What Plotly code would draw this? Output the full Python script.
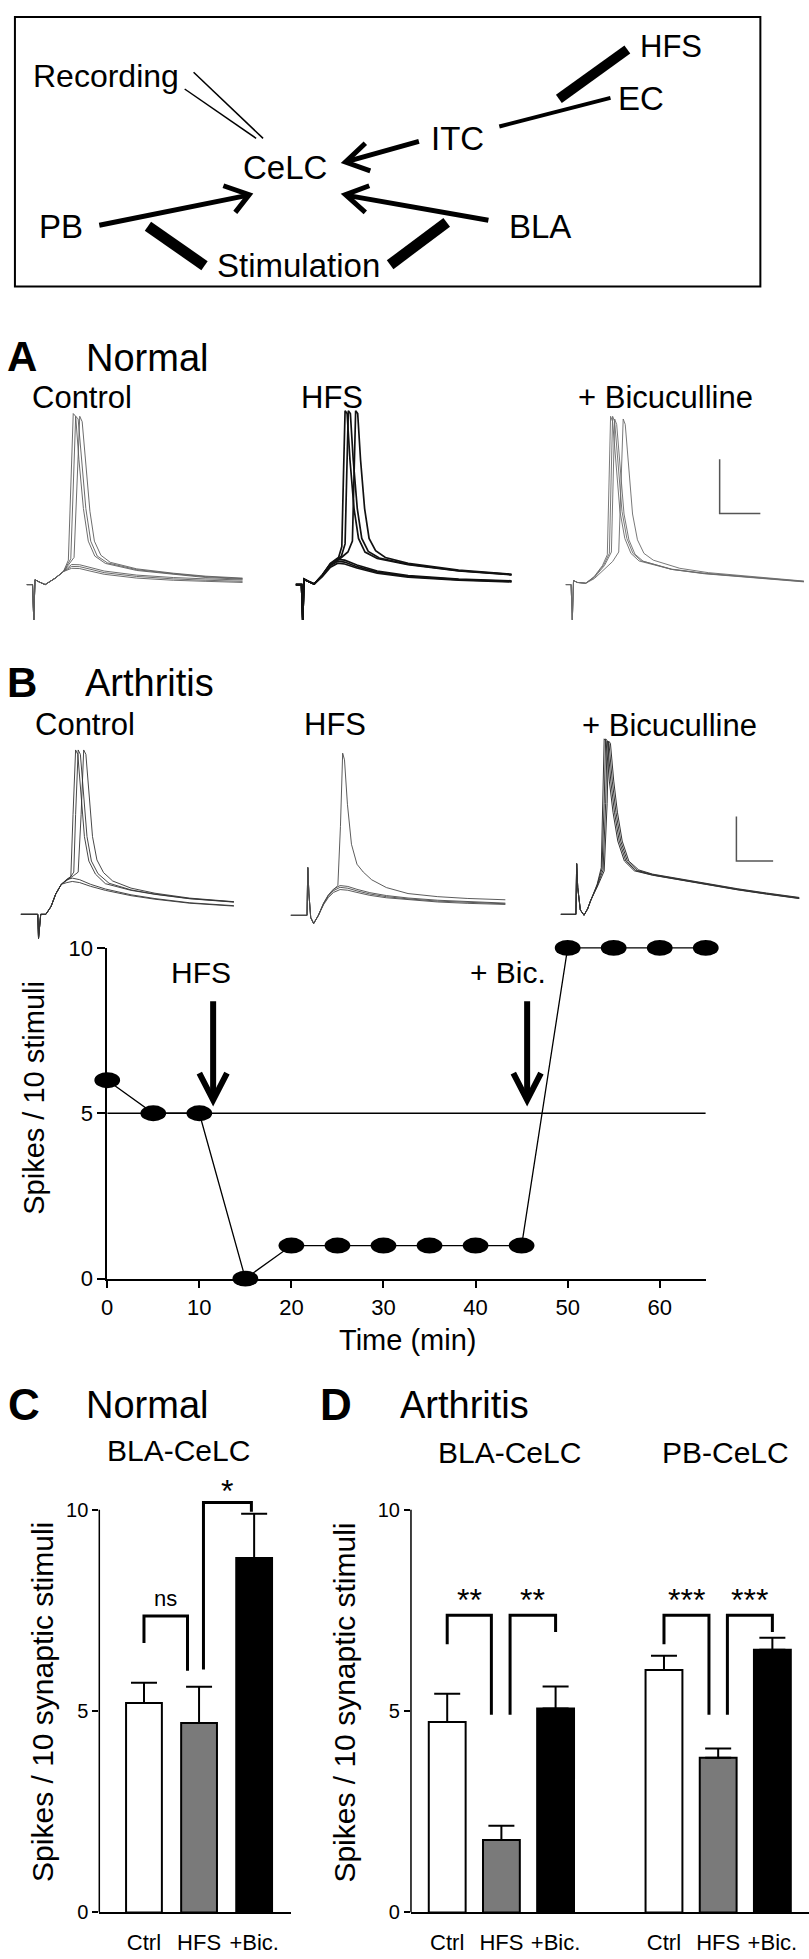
import plotly.graph_objects as go

W, H = 809, 1959
FONT = "Liberation Sans, Arial, Helvetica, sans-serif"

# ---------------------------------------------------------------
# data
# ---------------------------------------------------------------
# time course, arthritis neuron (spikes per 10 stimuli)
time_min = [0, 5, 10, 15, 20, 25, 30, 35, 40, 45, 50, 55, 60, 65]
spikes_per10 = [6, 5, 5, 0, 1, 1, 1, 1, 1, 1, 10, 10, 10, 10]
time_ticks = [0, 10, 20, 30, 40, 50, 60]
spike_ticks = [0, 5, 10]
control_level = 5
hfs_at = 11.5
bic_at = 45.6

# bar graphs (mean, sem)
bar_labels = ["Ctrl", "HFS", "+Bic."]
bar_colors = ["white", "#7a7a7a", "black"]
normal_bla = [5.2, 4.7, 8.8]
normal_bla_sem = [0.5, 0.9, 1.1]
arth_bla = [4.73, 1.8, 5.06]
arth_bla_sem = [0.7, 0.35, 0.55]
arth_pb = [6.02, 3.84, 6.52]
arth_pb_sem = [0.35, 0.23, 0.3]
pos_c = [0, 1, 2]
pos_bla = [0, 1, 2]
pos_pb = [4, 5, 6]

# significance brackets: label, x left, x right, left foot, right foot, top
sig_c = [("ns", 0, 0.79, 6.69, 6.0, 7.36), ("*", 1.08, 1.95, 6.03, 9.95, 10.18)]
sig_d = [("**", 0, 0.815, 6.66, 4.91, 7.38), ("**", 1.16, 2.0, 4.91, 6.96, 7.38),
         ("***", 4, 4.83, 6.66, 4.91, 7.38), ("***", 5.17, 6.0, 4.91, 6.96, 7.38)]

# example recordings: (ms, mV above rest)
a_onset = [(0, 0), (1.4, 0), (1.7, -13), (2.0, 1.8), (3.0, 1.0), (4.5, 0), (7, 2.4), (9, 4.8)]
a_ctrl_traces = [
    a_onset + [(11, 7.4), (13, 7.3), (15.5, 6.3), (19, 5.0), (27, 3.5), (36, 2.6), (44, 2.1), (53, 1.7)],
    a_onset + [(11, 6.7), (13, 6.6), (15.5, 5.7), (19, 4.4), (27, 3.0), (36, 2.1), (44, 1.6), (53, 1.2)],
    a_onset + [(11, 6.0), (13, 5.9), (15.5, 5.0), (19, 3.8), (27, 2.4), (36, 1.6), (44, 1.2), (53, 0.8)],
    a_onset + [(10.2, 9.0), (10.8, 38), (11.4, 63), (12.0, 62), (12.8, 46), (13.9, 28), (15.1, 16),
               (16.7, 10.5), (19.3, 7.8), (27, 5.2), (36, 3.7), (44, 2.6), (53, 2.0)],
    a_onset + [(10.8, 9.5), (11.4, 38), (12.0, 62), (12.6, 61), (13.4, 46), (14.5, 28), (15.7, 16),
               (17.3, 10.5), (19.8, 8.0), (27, 5.5), (36, 4.0), (44, 2.9), (53, 2.2)],
    a_onset + [(11.6, 10), (12.3, 38), (13.0, 62), (13.6, 60), (14.4, 45), (15.5, 27), (16.6, 16),
               (18.2, 10.8), (20.5, 8.2), (27, 5.8), (36, 4.2), (44, 3.1), (53, 2.4)],
]

h_onset = [(0, 0), (1.4, 0), (1.7, -13), (2.0, 2.0), (3.0, 1.2), (4.5, 0.2)]
a_hfs_traces = [
    h_onset + [(6.5, 3.5), (8.5, 7.5), (10.3, 9.3), (12, 9.0), (15, 7.2), (20, 5.0), (27.6, 3.3), (40, 2.0), (53, 1.4)],
    h_onset + [(6.5, 3.2), (8.5, 7.0), (10.3, 8.6), (12, 8.3), (15, 6.6), (20, 4.6), (27.6, 3.0), (40, 1.8), (53, 1.2)],
    h_onset + [(6.5, 2.9), (8.5, 6.4), (10.3, 7.9), (12, 7.6), (15, 6.1), (20, 4.2), (27.6, 2.7), (40, 1.6), (53, 1.0)],
    h_onset + [(6.5, 3.5), (8.5, 7.8), (10.5, 10), (11.3, 14), (11.7, 40), (12.1, 64), (12.6, 63), (13.3, 46),
               (14.3, 28), (15.4, 17), (17, 12), (20, 9.6), (27.6, 7.3), (40, 5.0), (53, 3.6)],
    h_onset + [(6.5, 3.4), (8.5, 7.6), (11.2, 10.5), (12.1, 15), (12.5, 40), (12.9, 64), (13.4, 63), (14.1, 46),
               (15.1, 28), (16.2, 17), (17.8, 12.2), (20.5, 9.8), (27.6, 7.5), (40, 5.1), (53, 3.7)],
    h_onset + [(6.5, 3.3), (8.5, 7.3), (11.2, 10), (12.8, 12), (13.9, 16), (14.3, 40), (14.7, 64), (15.2, 63),
               (15.9, 46), (16.9, 28), (18, 17), (19.6, 12.5), (22, 10), (27.6, 7.8), (40, 5.3), (53, 3.8)],
]

b_onset = [(0, 0), (1.3, 0), (1.6, -13), (1.9, 1.5), (2.8, 0.8), (4.9, 0.5)]
a_bic_traces = [
    b_onset + [(7, 3.0), (9, 7.0), (10.2, 11), (10.6, 35), (11.0, 62), (11.5, 60), (12.3, 44), (13.3, 27),
               (14.5, 17), (16, 11.5), (18, 8.7), (26, 5.6), (34, 4.1), (42, 3.1), (50, 2.0), (58.5, 1.1)],
    b_onset + [(7, 2.8), (9.3, 7.2), (10.7, 11.5), (11.1, 35), (11.5, 62), (12.0, 60), (12.8, 44), (13.8, 27),
               (15, 17), (16.5, 11.5), (18.5, 8.8), (26, 5.7), (34, 4.2), (42, 3.2), (50, 2.1), (58.5, 1.2)],
    b_onset + [(7, 2.6), (9.5, 7.0), (11.2, 12), (11.6, 35), (12.0, 61), (12.5, 59), (13.3, 43), (14.3, 26),
               (15.5, 16.5), (17, 11.2), (19, 8.6), (26, 5.6), (34, 4.0), (42, 3.1), (50, 2.0), (58.5, 1.0)],
    b_onset + [(7, 2.2), (9.5, 5.5), (11.5, 8.5), (13.0, 12), (13.6, 35), (14.1, 61), (14.6, 59), (15.4, 43),
               (16.4, 26), (17.6, 16.5), (19.2, 11.5), (21.5, 9.0), (28, 6.0), (35, 4.4), (42, 3.4), (50, 2.3), (58.5, 1.3)],
]

c_onset = [(0, 0), (4.6, 0), (4.8, -10.8), (5.1, -4), (5.4, 0), (6.8, 0), (8.2, 3.5), (9.5, 9.2), (11, 13.5)]
b_ctrl_traces = [
    c_onset + [(12.5, 15.6), (14, 16.3), (16, 15.6), (19, 13.5), (23, 11.4), (30, 8.8), (36.5, 7.1), (46, 5.2), (58, 3.9)],
    c_onset + [(12.5, 14.3), (14, 14.8), (16, 14.3), (19, 12.6), (23, 10.8), (30, 8.4), (36.5, 6.8), (46, 5.0), (58, 3.7)],
    c_onset + [(12.5, 15.8), (13.6, 17), (14.2, 45), (14.9, 74), (15.5, 72), (16.3, 55), (17.3, 35), (18.5, 24),
               (20.3, 18.1), (23, 13.8), (30, 10.8), (36.5, 9.0), (46, 7.0), (58, 5.5)],
    c_onset + [(13.6, 17), (14.4, 19), (14.9, 45), (15.6, 74), (16.2, 72), (17, 55), (18, 35), (19.2, 24),
               (21, 18.3), (24, 14), (30, 11), (36.5, 9.1), (46, 7.1), (58, 5.6)],
    c_onset + [(14.4, 17.5), (15.6, 19), (16.4, 45), (17.1, 74), (17.7, 72), (18.5, 55), (19.5, 35), (20.7, 24.5),
               (22.5, 18.8), (25, 15), (30, 11.8), (36.5, 9.5), (46, 7.3), (58, 5.7)],
]

d_onset = [(0, 0), (4.4, 0), (4.6, 21.5), (4.9, 10), (5.4, -1), (6.2, -3.7), (7.5, 0)]
b_hfs_traces = [
    d_onset + [(8.9, 5.2), (10.2, 8.6), (11.6, 11.1), (13.4, 12.6), (15.5, 12.2), (18, 11), (21.5, 9.6), (26, 8.4),
               (31.9, 7.4), (40, 6.4), (48, 5.8), (58.4, 5.2)],
    d_onset + [(8.9, 4.8), (10.2, 8.0), (11.6, 10.3), (13.4, 11.6), (15.5, 11.3), (18, 10.3), (21.5, 9.0), (26, 7.9),
               (31.9, 7.0), (40, 6.0), (48, 5.4), (58.4, 4.9)],
    d_onset + [(8.9, 5.5), (10.2, 9.2), (11.6, 11.8), (13.4, 13.4), (15.5, 13.0), (18, 11.7), (21.5, 10.2), (26, 8.9),
               (31.9, 7.8), (40, 6.8), (48, 6.1), (58.4, 5.5)],
    d_onset + [(8.9, 5.3), (10.2, 9.0), (11.6, 11.5), (12.8, 13.5), (13.5, 40), (14.1, 73), (14.6, 70), (15.4, 50),
               (16.5, 32), (18, 23), (19.7, 19.5), (22, 16), (26, 12.5), (31.9, 9.8), (40, 8.4), (48, 7.6), (58.4, 7.0)],
]

e_onset = [(0, 0), (4.1, 0), (4.3, 22.8), (4.6, 12), (5.3, 2), (6.3, -0.4), (7.3, 2.5), (8.1, 6.2)]
b_bic_traces = [
    e_onset + [(9.9, 13.6), (11.0, 21), (11.4, 50), (11.8, 79), (12.3, 78), (13.2, 60), (14.2, 46), (15.5, 33),
               (17.3, 24), (20, 19.6), (25, 17.6), (30.2, 16.1), (40, 13.3), (48.2, 11.0), (56, 9.1), (64.9, 7.1)],
    e_onset + [(9.9, 13.2), (11.2, 20.5), (11.8, 50), (12.2, 79), (12.7, 78), (13.6, 60), (14.6, 46), (15.9, 33),
               (17.7, 24), (20.4, 19.7), (25, 17.7), (30.2, 16.2), (40, 13.4), (48.2, 11.1), (56, 9.2), (64.9, 7.2)],
    e_onset + [(9.9, 12.8), (11.5, 20), (12.2, 50), (12.6, 78), (13.1, 77), (14.0, 60), (15.0, 46), (16.3, 33),
               (18.1, 24), (20.8, 19.8), (25, 17.9), (30.2, 16.4), (40, 13.6), (48.2, 11.3), (56, 9.4), (64.9, 7.4)],
    e_onset + [(9.9, 12.3), (11.8, 19.5), (12.6, 50), (13.0, 78), (13.5, 77), (14.4, 60), (15.4, 46), (16.7, 33),
               (18.5, 24), (21.2, 20), (25, 18.1), (30.2, 16.6), (40, 13.8), (48.2, 11.5), (56, 9.6), (64.9, 7.6)],
]

# scale bars: 10 ms / 20 mV
scale_ms, scale_mv = 10, 20


# ---------------------------------------------------------------
# helpers (pixel layout -> paper)
# ---------------------------------------------------------------
def P(x, y):
    return x / W, 1 - y / H


def dom_x(x0, x1):
    return [x0 / W, x1 / W]


def dom_y(top, bot):
    return [1 - bot / H, 1 - top / H]


def seg(x0, y0, x1, y1, w, color="black"):
    a, b = P(x0, y0)
    c, d = P(x1, y1)
    return dict(type="line", xref="paper", yref="paper", x0=a, y0=b, x1=c, y1=d,
                line=dict(color=color, width=w), layer="above")


def poly(pts, w):
    path = "M " + " L ".join("%.5f,%.5f" % P(x, y) for x, y in pts)
    return dict(type="path", path=path, xref="paper", yref="paper",
                line=dict(color="black", width=w), layer="above")


def label(text, x, y, size, angle=0):
    a, b = P(x, y)
    return dict(text=text, x=a, y=b, xref="paper", yref="paper", showarrow=False,
                xanchor="center", yanchor="middle", textangle=angle,
                font=dict(family=FONT, size=size, color="black"))


fig = go.Figure()
shapes = []
annotations = []
axes = {}

# ---------------------------------------------------------------
# diagram
# ---------------------------------------------------------------
a, b = P(9, 5)
c, d = P(760, 278)
shapes.append(dict(type="rect", xref="paper", yref="paper", x0=a, y0=d, x1=c, y1=b,
                   line=dict(color="black", width=2)))
shapes += [
    seg(189, 61, 259, 128, 1.5), seg(180, 78, 252, 128, 1.5),          # recording pipette
    seg(94, 216, 242, 186, 5), poly([(219, 176), (245, 185), (231, 203)], 5),   # PB -> CeLC
    seg(486, 211, 345, 186, 5), poly([(366, 176), (342, 185), (362, 203)], 5),  # BLA -> CeLC
    seg(416, 131, 345, 151, 5), poly([(362, 133), (342, 152), (367, 161)], 5),  # ITC -> CeLC
    seg(497, 116, 609, 87, 4),                                          # EC - ITC
    seg(557, 88, 626, 38, 10),                                          # HFS electrode
    seg(143, 217, 200, 257, 11), seg(444, 213, 387, 256, 11),           # stimulation electrodes
]
for t, x, y, s in [("Recording", 101, 65, 32), ("CeLC", 281, 158, 33), ("PB", 55, 217, 33),
                   ("Stimulation", 295, 257, 33), ("ITC", 455, 128, 33), ("HFS", 670, 35, 31),
                   ("EC", 640, 88, 33), ("BLA", 538, 217, 33)]:
    annotations.append(label(t, x, y, s))

# ---------------------------------------------------------------
# example traces A / B
# ---------------------------------------------------------------
panels = [
    # traces, axis no, box (x0, x1, top, bottom), origin px, px/ms, px/mV, colour, width
    (a_ctrl_traces, 3, (10, 250, 395, 625), (21, 580), 4.1, 2.75, "#5c5c5c", 0.9),
    (a_hfs_traces, 4, (280, 520, 395, 625), (292, 580), 4.1, 2.75, "#111111", 1.7),
    (a_bic_traces, 5, (552, 809, 395, 625), (564, 580), 4.1, 2.75, "#6a6a6a", 0.9),
    (b_ctrl_traces, 6, (8, 245, 728, 945), (15, 914), 3.7, 2.25, "#333333", 0.9),
    (b_hfs_traces, 7, (278, 520, 728, 945), (287, 915), 3.7, 2.25, "#4a4a4a", 0.9),
    (b_bic_traces, 8, (548, 809, 728, 945), (559, 914), 3.7, 2.25, "#333333", 1.0),
]
for traces, n, (x0, x1, top, bot), (ox, oy), sx, sy, col, lw in panels:
    axes["xaxis%d" % n] = dict(domain=dom_x(x0, x1), range=[(x0 - ox) / sx, (x1 - ox) / sx],
                               visible=False, anchor="y%d" % n)
    axes["yaxis%d" % n] = dict(domain=dom_y(top, bot), range=[(oy - bot) / sy, (oy - top) / sy],
                               visible=False, anchor="x%d" % n)
    for tr in traces:
        fig.add_trace(go.Scatter(x=[p[0] for p in tr], y=[p[1] for p in tr], mode="lines",
                                 line=dict(color=col, width=lw), xaxis="x%d" % n, yaxis="y%d" % n,
                                 hoverinfo="skip"))

# scale bars (A: right panel axes 5, B: axes 8)
for n, t0, v0 in [(5, 37.8, 26.2), (8, 47.8, 24.0)]:
    shapes.append(dict(type="path", xref="x%d" % n, yref="y%d" % n,
                       path="M %g,%g L %g,%g L %g,%g" % (t0, v0 + scale_mv, t0, v0, t0 + scale_ms, v0),
                       line=dict(color="#555555", width=1.5)))

for t, x, y, s in [("<b>A</b>", 16, 349, 42), ("Normal", 142, 350, 38), ("Control", 77, 390, 31),
                   ("HFS", 328, 390, 31), ("+ Bicuculline", 664, 390, 31),
                   ("<b>B</b>", 16, 679, 42), ("Arthritis", 145, 680, 38), ("Control", 80, 722, 31),
                   ("HFS", 331, 722, 31), ("+ Bicuculline", 668, 723, 31)]:
    annotations.append(label(t, x, y, s))

# ---------------------------------------------------------------
# time course
# ---------------------------------------------------------------
tx0, tx1, ty0, ty1 = 102, 705, 948, 1283
tick_style = dict(ticks="outside", ticklen=8, tickwidth=1.5, tickcolor="black", showgrid=False,
                  zeroline=False, showline=True, linewidth=1.5, linecolor="black",
                  tickfont=dict(family=FONT, size=22, color="black"))
axes["xaxis"] = dict(domain=dom_x(tx0, tx1), range=[0, 65], tickvals=time_ticks, anchor="y", **tick_style)
axes["yaxis"] = dict(domain=dom_y(ty0, ty1), range=[0, 10], tickvals=spike_ticks, anchor="x", **tick_style)
# larger invisible frame on the same scale so the dots are not clipped
pad = 20
ppx = (tx1 - tx0) / 65
ppy = (ty1 - ty0) / 10
axes["xaxis2"] = dict(domain=dom_x(tx0 - pad, tx1 + pad), range=[-pad / ppx, 65 + pad / ppx],
                      visible=False, anchor="y2")
axes["yaxis2"] = dict(domain=dom_y(ty0 - pad, ty1 + pad), range=[-pad / ppy, 10 + pad / ppy],
                      visible=False, anchor="x2")

shapes.append(dict(type="line", xref="x", yref="y", x0=0, x1=65, y0=control_level, y1=control_level,
                   line=dict(color="black", width=1.5)))
fig.add_trace(go.Scatter(x=time_min, y=spikes_per10, mode="lines", line=dict(color="black", width=1.3),
                         xaxis="x2", yaxis="y2", hoverinfo="skip"))
for t, v in zip(time_min, spikes_per10):
    shapes.append(dict(type="circle", xref="x2", yref="y2", x0=t - 1.4, x1=t + 1.4, y0=v - 0.24, y1=v + 0.24,
                       fillcolor="black", line=dict(width=0), layer="above"))
for t in [hfs_at, bic_at]:
    shapes.append(dict(type="line", xref="x", yref="y", x0=t, x1=t, y0=8.39, y1=5.55,
                       line=dict(color="black", width=6)))
    shapes.append(dict(type="path", xref="x", yref="y",
                       path="M %g,6.21 L %g,5.4 L %g,6.21" % (t - 1.5, t, t + 1.5),
                       line=dict(color="black", width=6)))
for t, x, y, s in [("HFS", 196, 973, 30), ("+ Bic.", 506, 973, 30), ("Time (min)", 405, 1345, 29)]:
    annotations.append(label(t, x, y, s))
annotations.append(label("Spikes / 10 stimuli", 28, 1100, 29, angle=-90))

# ---------------------------------------------------------------
# bar graphs C / D
# ---------------------------------------------------------------
by0, by1 = 1517, 1925          # y = 10 and y = 0
upp = (by1 - by0) / 10
bar_top = by1 - 10.8 * upp


def bar_axes(n, x0, x1, p0, unit, tickpos, ticktext):
    axes["xaxis%d" % n] = dict(domain=dom_x(x0, x1), range=[(x0 - p0) / unit, (x1 - p0) / unit],
                               anchor="y%d" % n, showline=True, linewidth=1.5, linecolor="black",
                               ticks="", showgrid=False, zeroline=False, tickvals=tickpos,
                               ticktext=ticktext, ticklabelstandoff=9,
                               tickfont=dict(family=FONT, size=22, color="black"))
    axes["yaxis%d" % n] = dict(domain=dom_y(bar_top, by1), range=[0, 10.8], anchor="x%d" % n,
                               showline=False, ticks="outside", ticklen=6, tickwidth=1.5,
                               tickcolor="black", tickvals=spike_ticks, showgrid=False, zeroline=False,
                               tickfont=dict(family=FONT, size=20, color="black"))
    shapes.append(dict(type="line", xref="x%d domain" % n, yref="y%d" % n, x0=0, x1=0, y0=0, y1=10,
                       line=dict(color="black", width=1.5)))


bar_axes(9, 94, 287, 139, 55.5, pos_c, bar_labels)
bar_axes(10, 408, 809, 444.5, 54.6, pos_bla + pos_pb, bar_labels + bar_labels)

for n, pos, vals, sem, w in [(9, pos_c, normal_bla, normal_bla_sem, 0.65),
                             (10, pos_bla, arth_bla, arth_bla_sem, 0.68),
                             (10, pos_pb, arth_pb, arth_pb_sem, 0.68)]:
    fig.add_trace(go.Bar(x=pos, y=vals, width=w, xaxis="x%d" % n, yaxis="y%d" % n,
                         marker=dict(color=bar_colors, line=dict(color="black", width=2)),
                         error_y=dict(type="data", array=sem, arrayminus=[0] * len(sem), symmetric=False,
                                      color="black", thickness=2, width=13),
                         hoverinfo="skip"))

for n, sigs in [(9, sig_c), (10, sig_d)]:
    for txt, xl, xr, yl, yr, top in sigs:
        shapes.append(dict(type="path", xref="x%d" % n, yref="y%d" % n,
                           path="M %g,%g L %g,%g L %g,%g L %g,%g" % (xl, yl, xl, top, xr, top, xr, yr),
                           line=dict(color="black", width=3)))
        if txt == "ns":
            annotations.append(dict(text=txt, x=(xl + xr) / 2, y=top + 18 / upp, xref="x%d" % n,
                                    yref="y%d" % n, showarrow=False,
                                    font=dict(family=FONT, size=22, color="black")))
        else:
            lift = 12 if n == 9 else 15
            annotations.append(dict(text=txt, x=(xl + xr) / 2, y=top + lift / upp, xref="x%d" % n,
                                    yref="y%d" % n, showarrow=False,
                                    font=dict(family=FONT, size=32, color="black")))

for t, x, y, s in [("<b>C</b>", 18, 1411, 44), ("Normal", 142, 1411, 38), ("<b>D</b>", 332, 1411, 44),
                   ("Arthritis", 462, 1411, 38), ("BLA-CeLC", 174, 1457, 30), ("BLA-CeLC", 507, 1459, 30),
                   ("PB-CeLC", 725, 1459, 30)]:
    annotations.append(label(t, x, y, s))
annotations.append(label("Spikes / 10 synaptic stimuli", 36, 1712, 30, angle=-90))
annotations.append(label("Spikes / 10 synaptic stimuli", 341, 1712, 30, angle=-90))

fig.update_layout(width=W, height=H, margin=dict(l=0, r=0, t=0, b=0, pad=0), autosize=False,
                  paper_bgcolor="white", plot_bgcolor="rgba(0,0,0,0)", showlegend=False,
                  barmode="overlay", font=dict(family=FONT, color="black"),
                  shapes=shapes, annotations=annotations, **axes)

# the default page has an 8px body margin; drop it so the figure sits at the window origin
fig.write_html("out.html", config={"displayModeBar": False},
               post_script="document.body.style.margin='0px';")
